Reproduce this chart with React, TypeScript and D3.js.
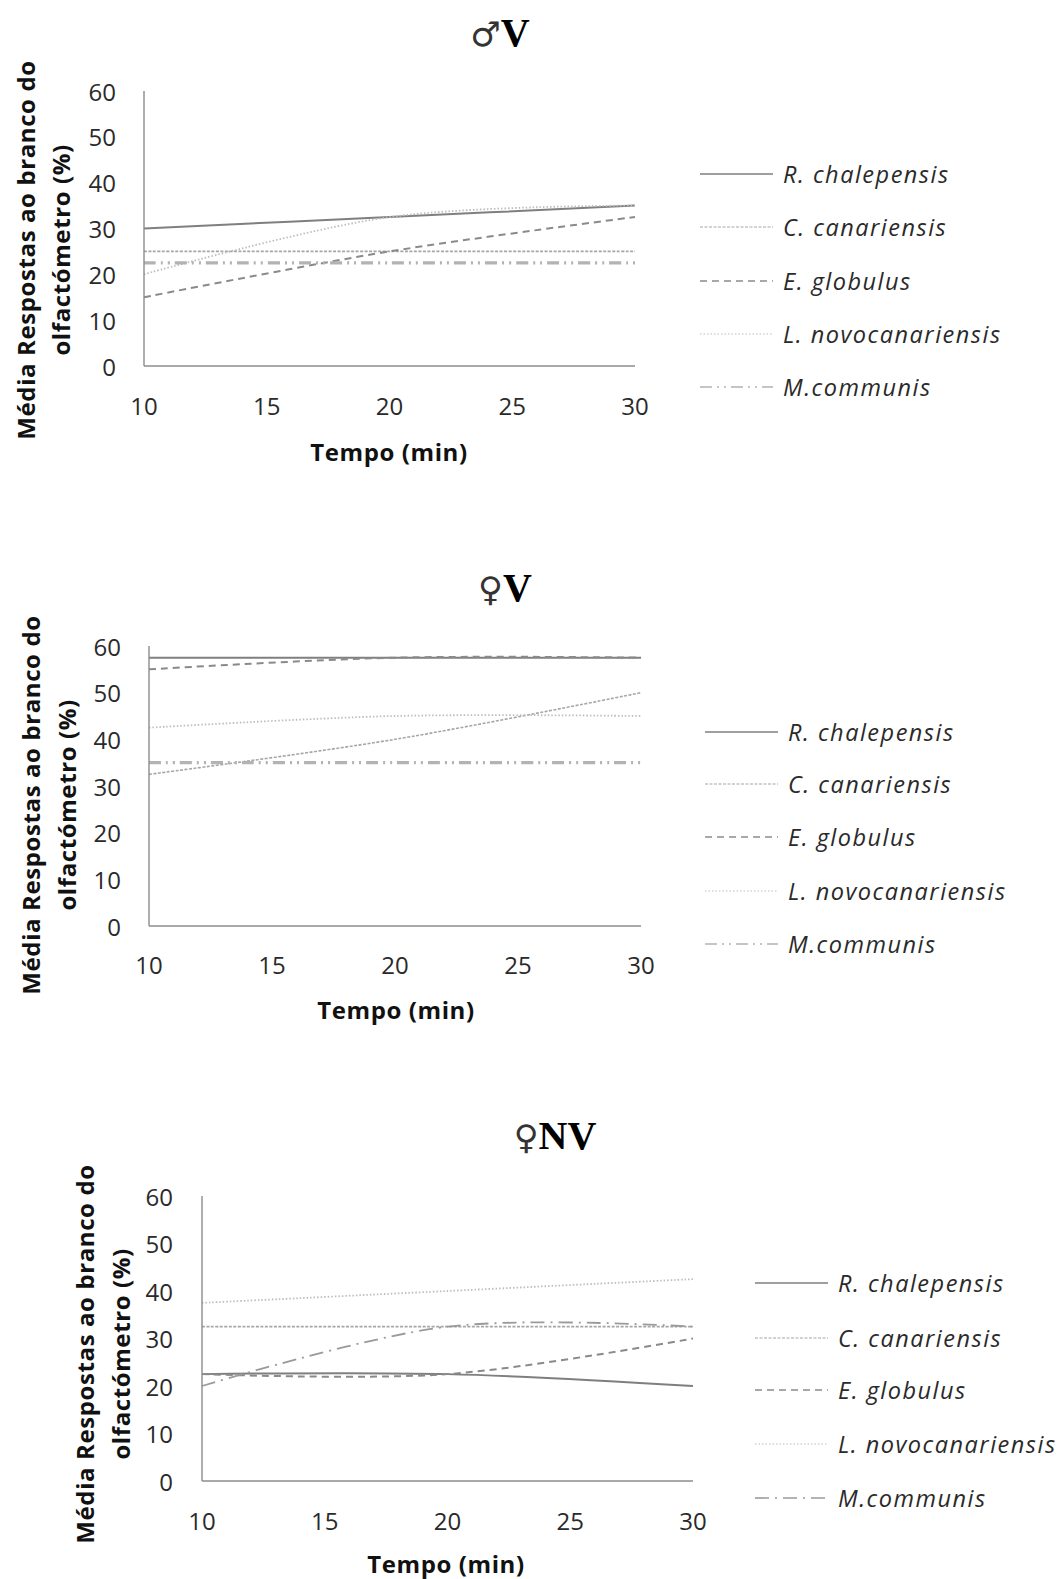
import React from "react"
import * as d3 from "d3"

// time points (min) and axis ticks
const minutes = [10, 20, 30]
const xTicks = [10, 15, 20, 25, 30]
const yTicks = [0, 10, 20, 30, 40, 50, 60]

const species = ["R. chalepensis", "C. canariensis", "E. globulus", "L. novocanariensis", "M.communis"]

// values per species, in the order of `species`
const maleV = [
    [30, 32.5, 35],
    [25, 25, 25],
    [15, 25, 32.5],
    [20, 32.5, 35],
    [22.5, 22.5, 22.5],
]
const femaleV = [
    [57.5, 57.5, 57.5],
    [32.5, 40, 50],
    [55, 57.5, 57.5],
    [42.5, 45, 45],
    [35, 35, 35],
]
const femaleNV = [
    [22.5, 22.5, 20],
    [32.5, 32.5, 32.5],
    [22.5, 22.5, 30],
    [37.5, 40, 42.5],
    [20, 32.5, 32.5],
]

const titles = [["\u2642", "V"], ["\u2640", "V"], ["\u2640", "NV"]]

const styles = [
    {stroke: "#7f7f7f", width: 2, dash: null, legendWidth: 1.6},
    {stroke: "#a6a6a6", width: 1.6, dash: "3,1.5", legendWidth: 1.2},
    {stroke: "#8a8a8a", width: 2, dash: "7,5", legendWidth: 1.4},
    {stroke: "#bdbdbd", width: 1.8, dash: "1.5,2", legendWidth: 1.2},
    {stroke: "#b3b3b3", width: 3.2, dash: "12,5,2,5,2,5", legendWidth: 1.6},
]
// the last panel draws M.communis as a thin long-dash-dot line
const thinCommunis = {stroke: "#9a9a9a", width: 1.8, dash: "14,6,2,6", legendWidth: 1.6}

const panels = [
    {values: maleV, x0: 144, x1: 635, top: 91, bottom: 366, titleX: 500, titleY: 46,
        yt1: 25, yt2: 60, ytY: 250, tickY: 405, labelRight: 116, tempoX: 389, tempoY: 451,
        legLine: 700, legText: 783, legRows: [174, 227, 281, 334, 387]},
    {values: femaleV, x0: 149, x1: 641, top: 646, bottom: 926, titleX: 505, titleY: 601,
        yt1: 30, yt2: 66, ytY: 805, tickY: 964, labelRight: 121, tempoX: 396, tempoY: 1009,
        legLine: 705, legText: 788, legRows: [732, 784, 837, 891, 944]},
    {values: femaleNV, x0: 202, x1: 693, top: 1196, bottom: 1481, titleX: 555, titleY: 1149,
        yt1: 84, yt2: 120, ytY: 1354, tickY: 1520, labelRight: 173, tempoX: 446, tempoY: 1563,
        legLine: 755, legText: 838, legRows: [1283, 1338, 1390, 1444, 1498], thin: true},
]

const sans = "'Open Sans', 'Noto Sans', sans-serif"

const Panel = ({p, idx}) => {
    const x = d3.scaleLinear().domain([10, 30]).range([p.x0, p.x1])
    const y = d3.scaleLinear().domain([0, 60]).range([p.bottom, p.top])
    const line = d3.line()
        .x((d, i) => x(minutes[i]))
        .y(d => y(d))
        .curve(d3.curveCatmullRom.alpha(0.5))
    const st = styles.map((s, i) => (p.thin && i === 4 ? thinCommunis : s))

    return (
        <g>
            <text x={p.titleX} y={p.titleY} textAnchor="middle" fontFamily="'Liberation Serif', serif" fontSize={40}>
                <tspan fontWeight="normal" fontFamily="'DejaVu Sans', serif" fontSize={34} fill="#333">{titles[idx][0]}</tspan>
                <tspan fontWeight="bold">{titles[idx][1]}</tspan>
            </text>

            {/* series */}
            {p.values.map((vals, i) => (
                <path key={i} d={line(vals)} fill="none" stroke={st[i].stroke}
                      strokeWidth={st[i].width} strokeDasharray={st[i].dash || undefined} />
            ))}

            {/* axes */}
            <line x1={p.x0} x2={p.x0} y1={p.top} y2={p.bottom} stroke="#8c8c8c" strokeWidth={1.4} />
            <line x1={p.x0} x2={p.x1} y1={p.bottom} y2={p.bottom} stroke="#8c8c8c" strokeWidth={1.4} />

            {yTicks.map(t => (
                <text key={t} x={p.labelRight} y={y(t)} textAnchor="end" dominantBaseline="central"
                      fontFamily={sans} fontSize={24} fill="#2a2a2a">{t}</text>
            ))}
            {xTicks.map(t => (
                <text key={t} x={x(t)} y={p.tickY} textAnchor="middle" dominantBaseline="central"
                      fontFamily={sans} fontSize={24} fill="#2a2a2a">{t}</text>
            ))}

            <text x={p.tempoX} y={p.tempoY} textAnchor="middle" dominantBaseline="central"
                  fontFamily={sans} fontWeight="bold" fontSize={24} letterSpacing={0.6} fill="#111">Tempo (min)</text>

            <g fontFamily={sans} fontWeight="bold" fontSize={24} letterSpacing={0.6} fill="#111">
                <text transform={`translate(${p.yt1},${p.ytY}) rotate(-90)`} textAnchor="middle"
                      dominantBaseline="central">Média Respostas ao branco do</text>
                <text transform={`translate(${p.yt2},${p.ytY}) rotate(-90)`} textAnchor="middle"
                      dominantBaseline="central">olfactómetro (%)</text>
            </g>

            {/* legend */}
            {species.map((s, i) => (
                <g key={s}>
                    <line x1={p.legLine} x2={p.legLine + 73} y1={p.legRows[i]} y2={p.legRows[i]}
                          stroke={st[i].stroke} strokeWidth={st[i].legendWidth}
                          strokeDasharray={st[i].dash || undefined} />
                    <text x={p.legText} y={p.legRows[i]} dominantBaseline="central" fontFamily={sans}
                          fontStyle="italic" fontSize={23.5} letterSpacing={1.5} fill="#2a2a2a">{s}</text>
                </g>
            ))}
        </g>
    )
}

export default function App() {
    return (
        <svg width={1064} height={1579} style={{position: "absolute", left: 0, top: 0, background: "#fff"}}>
            <rect width={1064} height={1579} fill="#fff" />
            {panels.map((p, i) => <Panel key={i} p={p} idx={i} />)}
        </svg>
    )
}
